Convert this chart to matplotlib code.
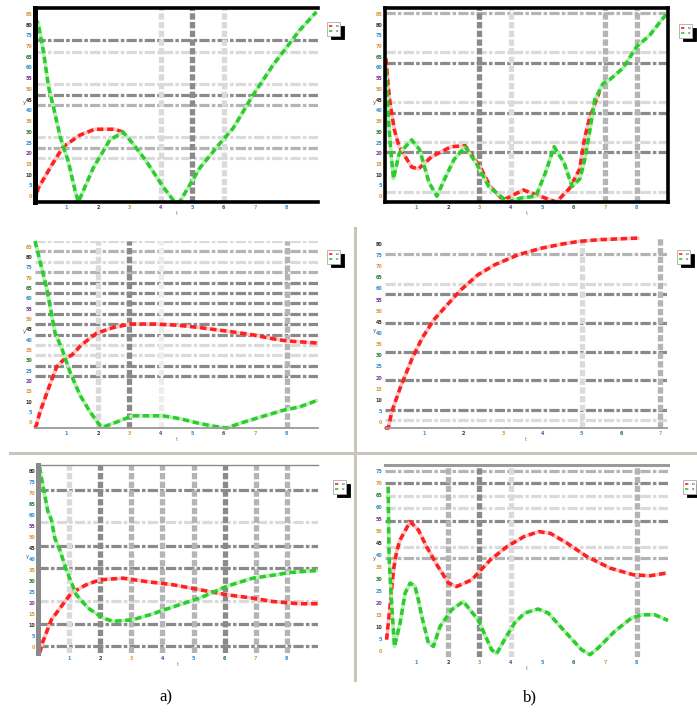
import numpy as np
import matplotlib
matplotlib.use("Agg")
import matplotlib.pyplot as plt
from matplotlib.lines import Line2D

# ---------------- data (normalised units) ----------------
p1_gx = [0.0, 0.1, 0.27, 0.43, 0.6, 0.8, 1.06, 1.27, 1.38, 1.85, 2.38, 2.8, 3.12, 3.54, 4.07, 4.44, 4.6, 5.24, 5.87, 6.3, 6.93, 7.57, 8.42, 8.95]
p1_gy = [0.95, 0.92, 0.775, 0.594, 0.48, 0.337, 0.208, 0.062, 0.0, 0.175, 0.32, 0.36, 0.30, 0.21, 0.079, 0.0, 0.0, 0.175, 0.30, 0.38, 0.55, 0.706, 0.886, 0.98]
p1_rx = [0.0, 0.1, 0.53, 0.9, 1.43, 1.9, 2.54, 2.8]
p1_ry = [0.0, 0.07, 0.19, 0.285, 0.345, 0.375, 0.375, 0.36]

p2_gx = [0.03, 0.1, 0.18, 0.27, 0.45, 0.85, 1.1, 1.4, 1.65, 1.9, 2.2, 2.55, 2.9, 3.3, 3.9, 4.3, 4.8, 5.1, 5.38, 5.7, 5.95, 6.2, 6.35, 6.5, 6.67, 6.93, 7.14, 7.57, 8.0, 8.42, 8.84, 9.0]
p2_gy = [0.68, 0.45, 0.27, 0.12, 0.25, 0.32, 0.27, 0.1, 0.03, 0.12, 0.22, 0.285, 0.2, 0.08, 0.0, 0.02, 0.03, 0.15, 0.285, 0.2, 0.08, 0.12, 0.216, 0.354, 0.526, 0.61, 0.63, 0.69, 0.8, 0.86, 0.947, 0.975]
p2_rx = [0.03, 0.1, 0.16, 0.3, 0.45, 0.85, 1.06, 1.48, 2.1, 2.55, 3.03, 3.35, 3.76, 4.4, 4.82, 5.45, 5.87, 6.19, 6.35, 6.5, 6.82]
p2_ry = [0.74, 0.6, 0.51, 0.37, 0.285, 0.18, 0.17, 0.233, 0.285, 0.29, 0.18, 0.079, 0.01, 0.062, 0.036, 0.0, 0.07, 0.17, 0.33, 0.43, 0.568]

p3_gx = [0.0, 0.21, 0.37, 0.48, 0.64, 0.85, 1.11, 1.43, 1.75, 2.06, 2.17, 2.6, 3.1, 3.33, 4.07, 4.6, 5.24, 5.66, 6.1, 6.5, 7.1, 7.9, 8.42, 9.0]
p3_gy = [1.0, 0.857, 0.75, 0.65, 0.507, 0.427, 0.30, 0.176, 0.086, 0.015, 0.005, 0.032, 0.065, 0.065, 0.065, 0.05, 0.024, 0.01, 0.0, 0.024, 0.055, 0.095, 0.113, 0.149]
p3_rx = [0.0, 0.05, 0.16, 0.43, 0.69, 0.94, 1.17, 1.48, 1.96, 2.49, 3.02, 3.8, 4.5, 5.24, 6.19, 6.93, 7.46, 7.99, 9.0]
p3_ry = [0.0, 0.018, 0.086, 0.212, 0.328, 0.37, 0.39, 0.445, 0.507, 0.537, 0.556, 0.556, 0.55, 0.537, 0.516, 0.498, 0.48, 0.466, 0.454]

p4_rx = [0.0, 0.085, 0.17, 0.38, 0.69, 0.94, 1.24, 1.58, 1.93, 2.36, 2.79, 3.39, 3.99, 4.5, 4.93, 5.44, 5.9, 6.47]
p4_ry = [0.0, 0.0, 0.084, 0.208, 0.366, 0.472, 0.569, 0.648, 0.727, 0.806, 0.859, 0.912, 0.947, 0.968, 0.982, 0.991, 0.995, 1.0]

p5_gx = [0.05, 0.16, 0.32, 0.43, 0.54, 0.7, 0.91, 1.23, 1.61, 2.09, 2.41, 3.05, 3.59, 4.55, 5.2, 6.05, 6.9, 7.64, 8.07, 8.98]
p5_gy = [0.99, 0.885, 0.752, 0.708, 0.611, 0.549, 0.442, 0.31, 0.239, 0.186, 0.168, 0.177, 0.203, 0.257, 0.292, 0.354, 0.398, 0.416, 0.428, 0.439]
p5_rx = [0.05, 0.16, 0.43, 0.75, 1.07, 1.55, 1.98, 2.73, 3.48, 4.34, 5.09, 6.05, 6.9, 7.54, 8.4, 9.0]
p5_ry = [0.0, 0.062, 0.177, 0.248, 0.319, 0.363, 0.389, 0.398, 0.38, 0.363, 0.34, 0.31, 0.292, 0.274, 0.262, 0.262]

p6_gx = [0.1, 0.13, 0.2, 0.3, 0.48, 0.64, 0.8, 0.95, 1.06, 1.17, 1.38, 1.54, 1.75, 2.12, 2.49, 2.96, 3.39, 3.55, 3.8, 4.12, 4.44, 4.87, 5.19, 5.72, 6.25, 6.52, 6.78, 7.3, 7.84, 8.16, 8.58, 9.0]
p6_gy = [0.887, 0.516, 0.308, 0.055, 0.177, 0.333, 0.385, 0.37, 0.298, 0.211, 0.073, 0.055, 0.159, 0.246, 0.289, 0.194, 0.038, 0.017, 0.09, 0.177, 0.229, 0.25, 0.229, 0.133, 0.038, 0.012, 0.047, 0.133, 0.203, 0.22, 0.22, 0.19]
p6_rx = [0.05, 0.16, 0.27, 0.37, 0.48, 0.8, 1.06, 1.32, 1.65, 2.02, 2.28, 2.76, 3.35, 3.88, 4.42, 4.89, 5.26, 5.79, 6.42, 7.16, 7.9, 8.42, 8.95]
p6_ry = [0.09, 0.263, 0.454, 0.549, 0.61, 0.705, 0.662, 0.575, 0.48, 0.385, 0.367, 0.402, 0.506, 0.575, 0.627, 0.653, 0.644, 0.593, 0.523, 0.463, 0.428, 0.423, 0.437]

# grid levels (horizontal / vertical) per panel
p1_hgrid = [0.835, 0.775, 0.61, 0.55, 0.5, 0.337, 0.278, 0.226]
p1_vgrid = [4, 5, 6]
p2_hgrid = [0.973, 0.775, 0.715, 0.517, 0.457, 0.31, 0.259, 0.053]
p2_vgrid = [3, 4, 7, 8]
p3_hgrid = [k / 18 for k in range(5, 19)]
p3_vgrid = [2, 3, 4, 8]
p4_hgrid = [0.916, 0.757, 0.704, 0.551, 0.401, 0.252, 0.097, 0.041]
p4_vgrid = [5, 7]
p5_hgrid = [0.867, 0.699, 0.57, 0.451, 0.279, 0.156, 0.035]
p5_vgrid = [1, 2, 3, 4, 5, 6, 7, 8]
p6_hgrid = [0.97, 0.905, 0.84, 0.775, 0.709, 0.575, 0.515]
p6_vgrid = [2, 3, 4, 8]

x_ticks_9 = [1, 2, 3, 4, 5, 6, 7, 8]
x_ticks_7 = [1, 2, 3, 4, 5, 6, 7]
legend_labels = ["u", "v"]
panel_labels = ["a)", "b)"]

# ---------------- styles ----------------
D, M, L = "#8a8a8a", "#b4b4b4", "#dadada"
p1_hs = [D, L, L, D, M, L, M, L]; p1_vs = [L, D, L]
p2_hs = [M, L, D, L, D, L, D, L]; p2_vs = [D, L, M, M]
p3_hs = [L, M, L, M, D, D, D, D, D, D, L, L, D, D][::-1]; p3_vs = [L, D, "#ececec", M]
p4_hs = [M, L, D, D, D, D, D, L]; p4_vs = [L, M]
p5_hs = [D, L, D, D, L, D, D]; p5_vs = [L, D, M, M, M, D, M, M]
p6_hs = [M, D, L, L, D, L, M]; p6_vs = [M, D, L, M]

RED, PINK = "#ff2020", "#ffc4c4"
GREEN, LGREEN = "#2ccc2c", "#b4f0b4"
TICK_COLORS = ["#d89a3c", "#3a8fd0", "#333333", "#d89a3c", "#7a3a9a", "#3a8fd0", "#2a7a3a"]

W, H = 697, 714
fig = plt.figure(figsize=(W / 100, H / 100), dpi=100)
fig.patch.set_facecolor("white")


def place(l, t, r, b):
    return fig.add_axes([l / W, 1 - b / H, (r - l) / W, (b - t) / H])


def curve(ax, x, y, c, gc):
    ax.plot(x, y, color=c, gapcolor=gc, lw=2.6, linestyle=(0, (1.8, 1.0)),
            dash_capstyle="butt", clip_on=False, zorder=3)


def grids(ax, hs, hshade, vs, vshade):
    for lv, sh in zip(hs, hshade):
        ax.axhline(lv, color=sh, lw=2.3, linestyle=(0, (3.2, 0.7, 1.1, 0.7)), zorder=1)
    for lv, sh in zip(vs, vshade):
        ax.axvline(lv, color=sh, lw=3.8, linestyle=(0, (1.2, 0.45)), zorder=1)


def style(ax, xmax, xt, ny, legend_xy):
    ax.set_xlim(0, xmax)
    ax.set_ylim(0, 1)
    ax.set_xticks(xt)
    ax.set_xticklabels([str(v) for v in xt])
    yt = np.linspace(0.03, 0.97, ny)
    ax.set_yticks(yt)
    ax.set_yticklabels(["%d" % (i * 5) for i in range(ny)])
    ax.tick_params(length=0, labelsize=3.5, pad=2)
    for i, t in enumerate(ax.get_xticklabels()):
        t.set_color(TICK_COLORS[(i + 1) % len(TICK_COLORS)])
        t.set_fontweight("bold")
    for i, t in enumerate(ax.get_yticklabels()):
        t.set_color(TICK_COLORS[i % len(TICK_COLORS)])
        t.set_fontweight("bold")
    ax.set_xlabel("t", fontsize=4, color="#7a8aa0", labelpad=1)
    ax.set_ylabel("y", fontsize=4, color="#555555", labelpad=1, rotation=0)
    handles = [Line2D([], [], color=RED, lw=1.2, ls=(0, (2, 1))),
               Line2D([], [], color=GREEN, lw=1.2, ls=(0, (2, 1)))]
    lg = ax.legend(handles, legend_labels, loc="upper left",
                   bbox_to_anchor=(legend_xy[0] / W, 1 - legend_xy[1] / H),
                   bbox_transform=fig.transFigure, fontsize=3, handlelength=1.2,
                   borderpad=0.5, labelspacing=0.3, handletextpad=0.3, fancybox=False,
                   edgecolor="#aaaaaa", framealpha=1,
                   shadow={"color": "black", "alpha": 1, "ox": 2.5, "oy": -2.5})
    lg.get_frame().set_linewidth(0.6)


def spines(ax, which, color, lw):
    for s in ["left", "right", "top", "bottom"]:
        if s in which:
            ax.spines[s].set_visible(True)
            ax.spines[s].set_color(color)
            ax.spines[s].set_linewidth(lw)
            ax.spines[s].set_zorder(4)
        else:
            ax.spines[s].set_visible(False)


# ---- panel 1 ----
ax = place(35, 8, 318, 202)
grids(ax, p1_hgrid, p1_hs, p1_vgrid, p1_vs)
curve(ax, p1_rx, p1_ry, RED, PINK)
curve(ax, p1_gx, p1_gy, GREEN, LGREEN)
style(ax, 9, x_ticks_9, 18, (325, 20))
spines(ax, ["left", "top", "bottom"], "black", 2.6)
ax.spines["left"].set_linewidth(3.6)

# ---- panel 2 ----
ax = place(385, 8, 668, 202)
grids(ax, p2_hgrid, p2_hs, p2_vgrid, p2_vs)
curve(ax, p2_rx, p2_ry, RED, PINK)
curve(ax, p2_gx, p2_gy, GREEN, LGREEN)
style(ax, 9, x_ticks_9, 18, (677, 22))
spines(ax, ["left", "right", "top", "bottom"], "black", 2.6)

# ---- panel 3 ----
ax = place(35, 241, 318, 428)
grids(ax, p3_hgrid, p3_hs, p3_vgrid, p3_vs)
curve(ax, p3_rx, p3_ry, RED, PINK)
curve(ax, p3_gx, p3_gy, GREEN, LGREEN)
style(ax, 9, x_ticks_9, 18, (325, 248))
spines(ax, ["bottom"], "#999999", 1.3)

# ---- panel 4 ----
ax = place(385, 238, 667, 428)
grids(ax, p4_hgrid, p4_hs, p4_vgrid, p4_vs)
curve(ax, p4_rx, p4_ry, RED, PINK)
style(ax, 7.17, x_ticks_7, 17, (675, 248))
spines(ax, ["bottom"], "#999999", 1.3)

# ---- panel 5 ----
ax = place(38, 465, 318, 653)
grids(ax, p5_hgrid, p5_hs, p5_vgrid, p5_vs)
curve(ax, p5_rx, p5_ry, RED, PINK)
curve(ax, p5_gx, p5_gy, GREEN, LGREEN)
style(ax, 9, x_ticks_9, 17, (331, 478))
spines(ax, ["left", "top"], "#8a8a8a", 1.0)
ax.spines["left"].set_linewidth(3.6)

# ---- panel 6 ----
ax = place(385, 465, 668, 657)
grids(ax, p6_hgrid, p6_hs, p6_vgrid, p6_vs)
curve(ax, p6_rx, p6_ry, RED, PINK)
curve(ax, p6_gx, p6_gy, GREEN, LGREEN)
style(ax, 9, x_ticks_9, 16, (681, 478))
spines(ax, ["top"], "#9a9a9a", 2.2)

# ---- separators ----
sep = "#c9c5b9"
fig.add_artist(Line2D([10 / W, 1], [1 - 453 / H, 1 - 453 / H], color=sep, lw=2.2, transform=fig.transFigure))
fig.add_artist(Line2D([355 / W, 355 / W], [1 - 228 / H, 1 - 680 / H], color=sep, lw=2.2, transform=fig.transFigure))

# ---- panel labels ----
fig.text(166 / W, 1 - 697 / H, panel_labels[0], ha="center", va="center",
         fontsize=12, family="Liberation Serif")
fig.text(530 / W, 1 - 697 / H, panel_labels[1], ha="center", va="center",
         fontsize=12, family="Liberation Serif")

fig.savefig("out.png", dpi=100, facecolor="white")
